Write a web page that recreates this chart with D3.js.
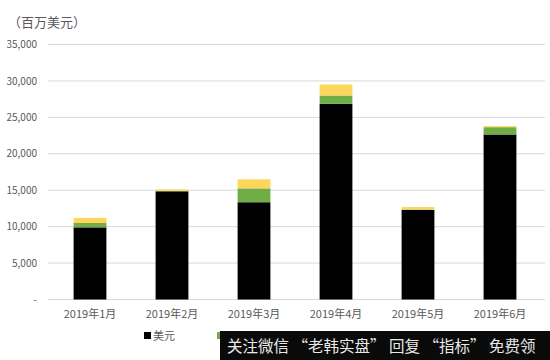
<!DOCTYPE html>
<html><head><meta charset="utf-8">
<script src="https://cdn.jsdelivr.net/npm/d3@7/dist/d3.min.js"></script>
<style>body{margin:0;background:#fff}svg{display:block}</style>
</head><body>
<svg id="c" width="550" height="360"></svg>
<script>
const categories = ["2019年1月","2019年2月","2019年3月","2019年4月","2019年5月","2019年6月"];
const seriesNames = ["美元","欧元","其他"];
const usd   = [9900, 14850, 13350, 26850, 12300, 22650];
const eur   = [600,  50,    1900,  1150,  50,    1000];
const other = [700,  200,   1250,  1500,  350,   150];
const yTicks = [0,5000,10000,15000,20000,25000,30000,35000];
const unitLabel = "（百万美元）";
const watermark = "关注微信 “老韩实盘” 回复 “指标” 免费领";

const colors = ["#000000","#70AD47","#FFD65C"];
const svg = d3.select("#c");
const font = "'Noto Sans CJK SC','Noto Sans',sans-serif";

const x = d3.scaleBand().domain(categories).range([49,541]).paddingInner(0.6).paddingOuter(0.3);
const y = d3.scaleLinear().domain([0,35000]).range([299.5,44.5]);

// grid
svg.append("g").selectAll("line").data(yTicks).join("line")
  .attr("x1",48).attr("x2",545)
  .attr("y1",d=>y(d)).attr("y2",d=>y(d))
  .attr("stroke","#d9d9d9").attr("stroke-width",1);

// y axis labels
const yAxis = d3.axisLeft(y).tickValues(yTicks).tickSize(0).tickPadding(0)
  .tickFormat(d=> d===0 ? "-" : d3.format(",")(d));
const ya = svg.append("g").attr("transform","translate(37,0)").call(yAxis);
ya.select(".domain").remove();
ya.selectAll("text").attr("fill","#595959").style("font-family",font).style("font-size","10px");

// stacked data
const rows = categories.map((c,i)=>({cat:c, "美元":usd[i], "欧元":eur[i], "其他":other[i]}));
const stack = d3.stack().keys(seriesNames)(rows);
svg.append("g").selectAll("g").data(stack).join("g")
  .attr("fill",(d,i)=>colors[i])
  .selectAll("rect").data(d=>d).join("rect")
  .attr("x",d=>x(d.data.cat)).attr("width",x.bandwidth())
  .attr("y",d=>y(d[1])).attr("height",d=>y(d[0])-y(d[1]));

// x axis labels
const xAxis = d3.axisBottom(x).tickSize(0).tickPadding(0);
const xa = svg.append("g").attr("transform","translate(0,310)").call(xAxis);
xa.select(".domain").remove();
xa.selectAll("text").attr("fill","#595959").style("font-family",font).style("font-size","11px");

// unit label
svg.append("text").attr("x",8).attr("y",27).text(unitLabel)
  .attr("fill","#595959").style("font-family",font).style("font-size","13px");

// legend (only the first entry's text is visible; the rest lie under the overlay)
const leg = svg.append("g").attr("transform","translate(144,336)");
seriesNames.forEach((n,i)=>{
  const g = leg.append("g").attr("transform",`translate(${i*73},0)`);
  g.append("rect").attr("x",0).attr("y",-4).attr("width",7).attr("height",7).attr("fill",colors[i]);
  if (i===0) g.append("text").attr("x",9).attr("y",4).text(n).attr("fill","#595959")
    .style("font-family",font).style("font-size","11px");
});

// watermark overlay
svg.append("rect").attr("x",220).attr("y",331).attr("width",330).attr("height",29).attr("fill","#0a0a0a");
svg.append("text").attr("x",227).attr("y",352).text(watermark).attr("fill","#e8e8e8")
  .style("font-family",font).style("font-size","15.5px");
</script>
</body></html>
